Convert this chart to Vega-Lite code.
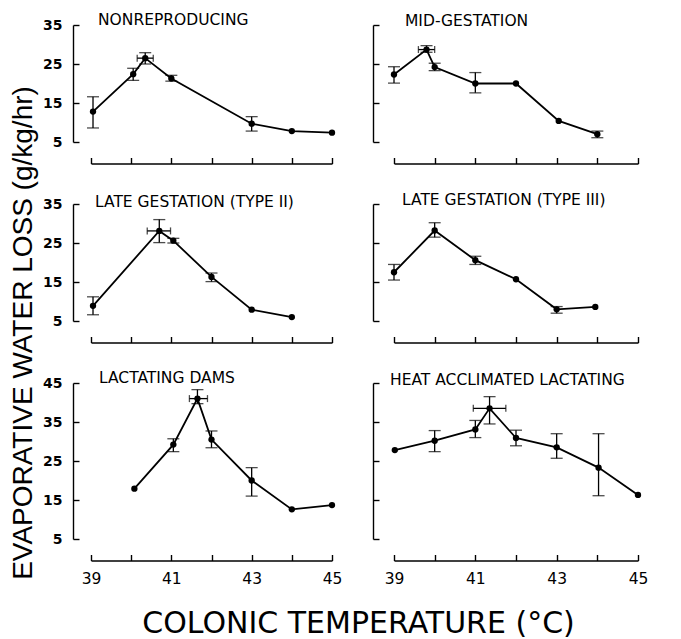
{
  "$schema": "https://vega.github.io/schema/vega-lite/v6.json",
  "background": "white",
  "padding": {"left": 9, "top": 12, "right": 5, "bottom": 5},
  "title": {"text": "EVAPORATIVE WATER LOSS (g/kg/hr)", "orient": "left", "anchor": "middle", "frame": "group", "font": "Liberation Sans", "fontSize": 28, "fontWeight": "normal", "color": "black", "offset": -17, "baseline": "alphabetic", "dx": -308},
  "datasets": {
    "d": [
      {"p": "NONREPRODUCING", "t": 39.05, "v": 12.8, "lo": 8.6, "hi": 16.6},
      {"p": "NONREPRODUCING", "t": 40.05, "v": 22.4, "lo": 20.8, "hi": 23.9},
      {"p": "NONREPRODUCING", "t": 40.35, "v": 26.5, "lo": 25.0, "hi": 27.9, "xlo": 40.15, "xhi": 40.55},
      {"p": "NONREPRODUCING", "t": 41.0, "v": 21.3, "lo": 20.6, "hi": 22.1},
      {"p": "NONREPRODUCING", "t": 43.0, "v": 9.7, "lo": 7.8, "hi": 11.5},
      {"p": "NONREPRODUCING", "t": 44.0, "v": 7.8},
      {"p": "NONREPRODUCING", "t": 45.0, "v": 7.4},
      {"p": "MID-GESTATION", "t": 39.0, "v": 22.3, "lo": 20.1, "hi": 24.3},
      {"p": "MID-GESTATION", "t": 39.8, "v": 28.7, "lo": 28.0, "hi": 29.7, "xlo": 39.6, "xhi": 40.0},
      {"p": "MID-GESTATION", "t": 40.0, "v": 24.2, "lo": 23.3, "hi": 25.2},
      {"p": "MID-GESTATION", "t": 41.0, "v": 20.0, "lo": 17.6, "hi": 22.8},
      {"p": "MID-GESTATION", "t": 42.0, "v": 20.0},
      {"p": "MID-GESTATION", "t": 43.05, "v": 10.4},
      {"p": "MID-GESTATION", "t": 44.0, "v": 7.0, "lo": 6.1, "hi": 7.8},
      {"p": "LATE GESTATION (TYPE II)", "t": 39.05, "v": 8.9, "lo": 6.6, "hi": 11.2},
      {"p": "LATE GESTATION (TYPE II)", "t": 40.7, "v": 28.1, "lo": 25.1, "hi": 31.0, "xlo": 40.4, "xhi": 40.98},
      {"p": "LATE GESTATION (TYPE II)", "t": 41.05, "v": 25.6, "lo": 25.0, "hi": 26.2},
      {"p": "LATE GESTATION (TYPE II)", "t": 42.0, "v": 16.3, "lo": 15.1, "hi": 17.3},
      {"p": "LATE GESTATION (TYPE II)", "t": 43.0, "v": 7.9},
      {"p": "LATE GESTATION (TYPE II)", "t": 44.0, "v": 6.0},
      {"p": "LATE GESTATION (TYPE III)", "t": 39.0, "v": 17.5, "lo": 15.5, "hi": 19.5},
      {"p": "LATE GESTATION (TYPE III)", "t": 40.0, "v": 28.2, "lo": 26.5, "hi": 30.2},
      {"p": "LATE GESTATION (TYPE III)", "t": 41.0, "v": 20.6, "lo": 19.5, "hi": 21.6},
      {"p": "LATE GESTATION (TYPE III)", "t": 42.0, "v": 15.7},
      {"p": "LATE GESTATION (TYPE III)", "t": 43.0, "v": 8.0, "lo": 7.0, "hi": 8.7},
      {"p": "LATE GESTATION (TYPE III)", "t": 43.95, "v": 8.6},
      {"p": "LACTATING DAMS", "t": 40.08, "v": 17.9},
      {"p": "LACTATING DAMS", "t": 41.05, "v": 29.2, "lo": 27.4, "hi": 30.7},
      {"p": "LACTATING DAMS", "t": 41.65, "v": 41.0, "lo": 39.7, "hi": 43.3, "xlo": 41.45, "xhi": 41.9},
      {"p": "LACTATING DAMS", "t": 42.0, "v": 30.5, "lo": 28.4, "hi": 32.7},
      {"p": "LACTATING DAMS", "t": 43.0, "v": 20.0, "lo": 16.0, "hi": 23.3},
      {"p": "LACTATING DAMS", "t": 44.0, "v": 12.6},
      {"p": "LACTATING DAMS", "t": 45.0, "v": 13.7},
      {"p": "HEAT ACCLIMATED LACTATING", "t": 39.02, "v": 27.8},
      {"p": "HEAT ACCLIMATED LACTATING", "t": 40.0, "v": 30.2, "lo": 27.4, "hi": 32.8},
      {"p": "HEAT ACCLIMATED LACTATING", "t": 41.0, "v": 33.1, "lo": 31.0, "hi": 35.4},
      {"p": "HEAT ACCLIMATED LACTATING", "t": 41.35, "v": 38.5, "lo": 34.5, "hi": 41.5, "xlo": 40.95, "xhi": 41.75},
      {"p": "HEAT ACCLIMATED LACTATING", "t": 42.0, "v": 30.9, "lo": 28.9, "hi": 32.9},
      {"p": "HEAT ACCLIMATED LACTATING", "t": 43.0, "v": 28.5, "lo": 25.7, "hi": 32.0},
      {"p": "HEAT ACCLIMATED LACTATING", "t": 44.03, "v": 23.3, "lo": 16.1, "hi": 32.0},
      {"p": "HEAT ACCLIMATED LACTATING", "t": 45.0, "v": 16.3}
    ]
  },
  "config": {
    "view": {"stroke": null},
    "axis": {"domainColor": "black", "tickColor": "black", "domainWidth": 1.4, "tickWidth": 1.4, "labelColor": "black", "grid": false, "labelFont": "DejaVu Sans", "titleColor": "black", "labelFlush": false, "labelOverlap": false},
    "title": {"font": "DejaVu Sans", "fontSize": 15.5, "fontWeight": "normal", "color": "black", "anchor": "start", "frame": "group", "offset": 0, "baseline": "alphabetic"}
  },
  "columns": 2,
  "spacing": 62,
  "bounds": "flush",
  "concat": [
    {
      "width": 241, "height": 117,
      "title": {"text": "NONREPRODUCING", "dx": 7, "dy": 14},
      "data": {"name": "d"},
      "transform": [{"filter": "datum.p == 'NONREPRODUCING'"}],
      "encoding": {
        "x": {"field": "t", "type": "quantitative", "scale": {"domain": [39, 45], "nice": false, "zero": false}, "axis": {"values": [39, 40, 41, 42, 43, 44, 45], "tickSize": -6, "labels": false, "offset": 21.5, "title": null}},
        "y": {"field": "v", "type": "quantitative", "scale": {"domain": [5, 35], "nice": false, "zero": false}, "axis": {"values": [5, 15, 25, 35], "tickSize": -6, "labelPadding": 17, "offset": 18, "labelFontSize": 14, "labelFontWeight": "bold", "title": null}}
      },
      "layer": [
        {"mark": {"type": "line", "color": "black", "strokeWidth": 1.8}},
        {"mark": {"type": "point", "filled": true, "color": "black", "size": 40, "opacity": 1}},
        {"transform": [{"filter": "isValid(datum.lo)"}], "mark": {"type": "errorbar", "orient": "vertical", "color": "black", "thickness": 1.3, "size": 12, "ticks": true}, "encoding": {"y": {"field": "lo", "type": "quantitative", "scale": {"domain": [5, 35], "nice": false, "zero": false}}, "y2": {"field": "hi"}}},
        {"transform": [{"filter": "isValid(datum.xlo)"}], "mark": {"type": "errorbar", "orient": "horizontal", "color": "black", "thickness": 1.3, "size": 7, "ticks": true}, "encoding": {"x": {"field": "xlo", "type": "quantitative", "scale": {"domain": [39, 45], "nice": false, "zero": false}}, "x2": {"field": "xhi"}}}
      ]
    },
    {
      "width": 244, "height": 117,
      "title": {"text": "MID-GESTATION", "dx": 11, "dy": 9},
      "data": {"name": "d"},
      "transform": [{"filter": "datum.p == 'MID-GESTATION'"}],
      "encoding": {
        "x": {"field": "t", "type": "quantitative", "scale": {"domain": [39, 45], "nice": false, "zero": false}, "axis": {"values": [39, 40, 41, 42, 43, 44, 45], "tickSize": -6, "labels": false, "offset": 21.5, "title": null}},
        "y": {"field": "v", "type": "quantitative", "scale": {"domain": [5, 35], "nice": false, "zero": false}, "axis": {"values": [5, 15, 25, 35], "tickSize": -6, "labels": false, "offset": 21, "title": null}}
      },
      "layer": [
        {"mark": {"type": "line", "color": "black", "strokeWidth": 1.8}},
        {"mark": {"type": "point", "filled": true, "color": "black", "size": 40, "opacity": 1}},
        {"transform": [{"filter": "isValid(datum.lo)"}], "mark": {"type": "errorbar", "orient": "vertical", "color": "black", "thickness": 1.3, "size": 12, "ticks": true}, "encoding": {"y": {"field": "lo", "type": "quantitative", "scale": {"domain": [5, 35], "nice": false, "zero": false}}, "y2": {"field": "hi"}}},
        {"transform": [{"filter": "isValid(datum.xlo)"}], "mark": {"type": "errorbar", "orient": "horizontal", "color": "black", "thickness": 1.3, "size": 7, "ticks": true}, "encoding": {"x": {"field": "xlo", "type": "quantitative", "scale": {"domain": [39, 45], "nice": false, "zero": false}}, "x2": {"field": "xhi"}}}
      ]
    },
    {
      "width": 241, "height": 117,
      "title": {"text": "LATE GESTATION (TYPE II)", "dx": 4, "dy": 17.5},
      "data": {"name": "d"},
      "transform": [{"filter": "datum.p == 'LATE GESTATION (TYPE II)'"}],
      "encoding": {
        "x": {"field": "t", "type": "quantitative", "scale": {"domain": [39, 45], "nice": false, "zero": false}, "axis": {"values": [39, 40, 41, 42, 43, 44, 45], "tickSize": -6, "labels": false, "offset": 21.5, "title": null}},
        "y": {"field": "v", "type": "quantitative", "scale": {"domain": [5, 35], "nice": false, "zero": false}, "axis": {"values": [5, 15, 25, 35], "tickSize": -6, "labelPadding": 17, "offset": 18, "labelFontSize": 14, "labelFontWeight": "bold", "title": null}}
      },
      "layer": [
        {"mark": {"type": "line", "color": "black", "strokeWidth": 1.8}},
        {"mark": {"type": "point", "filled": true, "color": "black", "size": 40, "opacity": 1}},
        {"transform": [{"filter": "isValid(datum.lo)"}], "mark": {"type": "errorbar", "orient": "vertical", "color": "black", "thickness": 1.3, "size": 12, "ticks": true}, "encoding": {"y": {"field": "lo", "type": "quantitative", "scale": {"domain": [5, 35], "nice": false, "zero": false}}, "y2": {"field": "hi"}}},
        {"transform": [{"filter": "isValid(datum.xlo)"}], "mark": {"type": "errorbar", "orient": "horizontal", "color": "black", "thickness": 1.3, "size": 7, "ticks": true}, "encoding": {"x": {"field": "xlo", "type": "quantitative", "scale": {"domain": [39, 45], "nice": false, "zero": false}}, "x2": {"field": "xhi"}}}
      ]
    },
    {
      "width": 244, "height": 117,
      "title": {"text": "LATE GESTATION (TYPE III)", "dx": 8, "dy": 9.5},
      "data": {"name": "d"},
      "transform": [{"filter": "datum.p == 'LATE GESTATION (TYPE III)'"}],
      "encoding": {
        "x": {"field": "t", "type": "quantitative", "scale": {"domain": [39, 45], "nice": false, "zero": false}, "axis": {"values": [39, 40, 41, 42, 43, 44, 45], "tickSize": -6, "labels": false, "offset": 21.5, "title": null}},
        "y": {"field": "v", "type": "quantitative", "scale": {"domain": [5, 35], "nice": false, "zero": false}, "axis": {"values": [5, 15, 25, 35], "tickSize": -6, "labels": false, "offset": 21, "title": null}}
      },
      "layer": [
        {"mark": {"type": "line", "color": "black", "strokeWidth": 1.8}},
        {"mark": {"type": "point", "filled": true, "color": "black", "size": 40, "opacity": 1}},
        {"transform": [{"filter": "isValid(datum.lo)"}], "mark": {"type": "errorbar", "orient": "vertical", "color": "black", "thickness": 1.3, "size": 12, "ticks": true}, "encoding": {"y": {"field": "lo", "type": "quantitative", "scale": {"domain": [5, 35], "nice": false, "zero": false}}, "y2": {"field": "hi"}}}
      ]
    },
    {
      "width": 241, "height": 156,
      "title": {"text": "LACTATING DAMS", "dx": 8, "dy": 14},
      "data": {"name": "d"},
      "transform": [{"filter": "datum.p == 'LACTATING DAMS'"}],
      "encoding": {
        "x": {"field": "t", "type": "quantitative", "scale": {"domain": [39, 45], "nice": false, "zero": false}, "axis": {"values": [39, 40, 41, 42, 43, 44, 45], "tickSize": -6, "labelPadding": 17, "labelFontSize": 15.5, "labelExpr": "datum.value % 2 == 1 ? datum.label : ''", "offset": 21.5, "title": "COLONIC TEMPERATURE (°C)", "titleFont": "DejaVu Sans", "titleFontSize": 30, "titleFontWeight": "normal", "titleX": 267, "titleY": 71.5, "titleAlign": "center", "titleBaseline": "alphabetic"}},
        "y": {"field": "v", "type": "quantitative", "scale": {"domain": [5, 45], "nice": false, "zero": false}, "axis": {"values": [5, 15, 25, 35, 45], "tickSize": -6, "labelPadding": 17, "offset": 18, "labelFontSize": 14, "labelFontWeight": "bold", "title": null}}
      },
      "layer": [
        {"mark": {"type": "line", "color": "black", "strokeWidth": 1.8}},
        {"mark": {"type": "point", "filled": true, "color": "black", "size": 40, "opacity": 1}},
        {"transform": [{"filter": "isValid(datum.lo)"}], "mark": {"type": "errorbar", "orient": "vertical", "color": "black", "thickness": 1.3, "size": 12, "ticks": true}, "encoding": {"y": {"field": "lo", "type": "quantitative", "scale": {"domain": [5, 45], "nice": false, "zero": false}}, "y2": {"field": "hi"}}},
        {"transform": [{"filter": "isValid(datum.xlo)"}], "mark": {"type": "errorbar", "orient": "horizontal", "color": "black", "thickness": 1.3, "size": 7, "ticks": true}, "encoding": {"x": {"field": "xlo", "type": "quantitative", "scale": {"domain": [39, 45], "nice": false, "zero": false}}, "x2": {"field": "xhi"}}}
      ]
    },
    {
      "width": 244, "height": 156,
      "title": {"text": "HEAT ACCLIMATED LACTATING", "dx": -4, "dy": 10},
      "data": {"name": "d"},
      "transform": [{"filter": "datum.p == 'HEAT ACCLIMATED LACTATING'"}],
      "encoding": {
        "x": {"field": "t", "type": "quantitative", "scale": {"domain": [39, 45], "nice": false, "zero": false}, "axis": {"values": [39, 40, 41, 42, 43, 44, 45], "tickSize": -6, "labelPadding": 17, "labelFontSize": 15.5, "labelExpr": "datum.value % 2 == 1 ? datum.label : ''", "offset": 21.5, "title": null}},
        "y": {"field": "v", "type": "quantitative", "scale": {"domain": [5, 45], "nice": false, "zero": false}, "axis": {"values": [5, 15, 25, 35, 45], "tickSize": -6, "labels": false, "offset": 21, "title": null}}
      },
      "layer": [
        {"mark": {"type": "line", "color": "black", "strokeWidth": 1.8}},
        {"mark": {"type": "point", "filled": true, "color": "black", "size": 40, "opacity": 1}},
        {"transform": [{"filter": "isValid(datum.lo)"}], "mark": {"type": "errorbar", "orient": "vertical", "color": "black", "thickness": 1.3, "size": 12, "ticks": true}, "encoding": {"y": {"field": "lo", "type": "quantitative", "scale": {"domain": [5, 45], "nice": false, "zero": false}}, "y2": {"field": "hi"}}},
        {"transform": [{"filter": "isValid(datum.xlo)"}], "mark": {"type": "errorbar", "orient": "horizontal", "color": "black", "thickness": 1.3, "size": 7, "ticks": true}, "encoding": {"x": {"field": "xlo", "type": "quantitative", "scale": {"domain": [39, 45], "nice": false, "zero": false}}, "x2": {"field": "xhi"}}}
      ]
    }
  ]
}
